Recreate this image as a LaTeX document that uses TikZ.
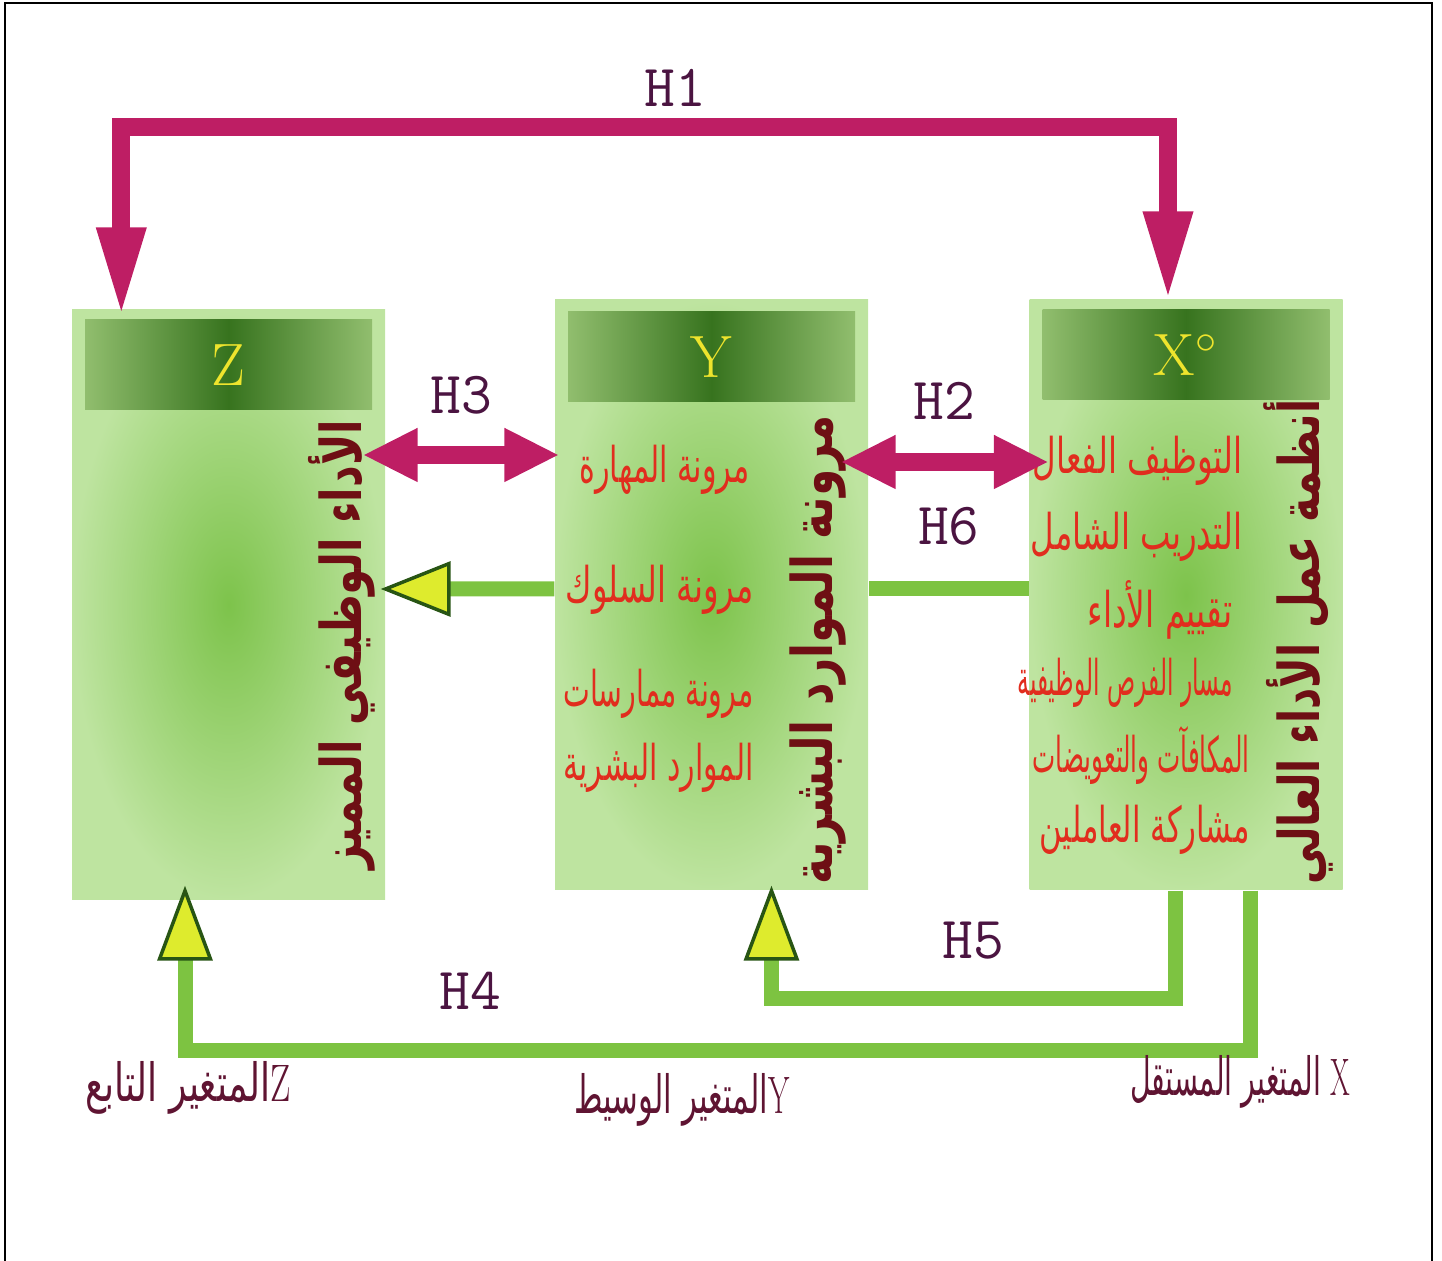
\documentclass[tikz,border=0pt]{standalone}
\usepackage{fontspec}
\newfontfamily\arabicfont[Script=Arabic]{DejaVu Sans}
\TeXXeTstate=1
\usetikzlibrary{arrows.meta,positioning,calc}

\definecolor{hmag}{RGB}{190,30,100}
\definecolor{hlab}{RGB}{75,20,65}
\definecolor{lgreen}{RGB}{125,195,65}
\definecolor{boxin}{RGB}{125,195,75}
\definecolor{boxout}{RGB}{190,228,160}
\definecolor{hdrdark}{RGB}{55,115,30}
\definecolor{hdredge}{RGB}{145,190,110}
\definecolor{letteryel}{RGB}{238,228,45}
\definecolor{itemred}{RGB}{225,45,30}
\definecolor{titlered}{RGB}{110,15,20}
\definecolor{tipyellow}{RGB}{222,235,45}
\definecolor{tipedge}{RGB}{40,85,20}
\definecolor{footred}{RGB}{95,20,50}

% squeeze a text to a given width, keeping its height
\newcommand{\squeeze}[2]{\resizebox{#1}{\height}{#2}}

\begin{document}
\begin{tikzpicture}[>=latex,
    varbox/.style={rectangle,minimum width=3.13cm,minimum height=5.9cm,
      inner color=boxin,outer color=boxout},
    hdr/.style={rectangle,minimum width=2.87cm,minimum height=0.9cm,
      left color=hdredge,right color=hdredge,middle color=hdrdark,
      text=letteryel,font=\rmfamily\fontsize{17}{20}\selectfont},
    vtitle/.style={rotate=90,text=titlered,
      font=\arabicfont\bfseries\fontsize{16}{19}\selectfont},
    item/.style={anchor=east,text=itemred,align=right,
      font=\arabicfont\fontsize{14}{21}\selectfont},
    hlabel/.style={text=hlab,font=\ttfamily\fontsize{17}{20}\selectfont},
    foot/.style={text=footred,font=\arabicfont\fontsize{15}{18}\selectfont},
    magline/.style={draw=hmag,line width=0.18cm},
    greenline/.style={draw=lgreen,line width=0.15cm},
    gtip/.style={-{Triangle[length=#1,width=0.55cm,fill=tipyellow,color=tipedge,line width=1pt]}}]
  \useasboundingbox (0,0) rectangle (14.42,12.61);
  \draw[line width=0.7pt] (0.05,0) -- (0.05,12.58) -- (14.32,12.58) -- (14.32,0);

  % the three variables
  \node[varbox] (zbox) at (2.285,6.56) {};
  \node[varbox] (ybox) at (7.115,6.66) {};
  \node[varbox] (xbox) at (11.86,6.66) {};
  \node[hdr,below=0.1cm of zbox.north] (zhdr) {Z};
  \node[hdr,below=0.12cm of ybox.north] (yhdr) {Y};
  \node[hdr,below=0.1cm of xbox.north] (xhdr) {X$^{\circ}$};

  \node[vtitle] (ztitle) at (3.42,6.16) {\squeeze{4.5cm}{\beginR الأداء الوظيفي المميز\endR}};
  \node[vtitle] (ytitle) at (8.18,6.11) {\squeeze{4.7cm}{\beginR مرونة الموارد البشرية\endR}};
  \node[vtitle] (xtitle) at (12.98,6.19) {\squeeze{4.85cm}{\beginR أنظمة عمل الأداء العالي\endR}};

  \node[item] (yone) at (7.62,7.91) {\squeeze{1.7cm}{\beginR مرونة المهارة\endR}};
  \node[item] (ytwo) at (7.66,6.71) {\squeeze{1.88cm}{\beginR مرونة السلوك\endR}};
  \node[item] (ythree) at (7.66,5.30) {\squeeze{1.9cm}{\beginR مرونة ممارسات\endR}\\\squeeze{1.9cm}{\beginR الموارد البشرية\endR}};

  \node[item] (xone) at (12.55,8.00) {\squeeze{2.1cm}{\beginR التوظيف الفعال\endR}};
  \node[item] (xtwo) at (12.55,7.24) {\squeeze{2.12cm}{\beginR التدريب الشامل\endR}};
  \node[item] (xthree) at (12.45,6.51) {\squeeze{1.45cm}{\beginR تقييم الأداء\endR}};
  \node[item] (xfour) at (12.45,5.78) {\squeeze{2.15cm}{\beginR مسار الفرص الوظيفية\endR}};
  \node[item] (xfive) at (12.62,5.06) {\squeeze{2.17cm}{\beginR المكافآت والتعويضات\endR}};
  \node[item] (xsix) at (12.62,4.31) {\squeeze{2.1cm}{\beginR مشاركة العاملين\endR}};

  % hypotheses
  \node[hlabel] (hone) at (6.75,11.73) {H1};
  \draw[magline,{Triangle[length=0.9cm,width=0.45cm]}-{Triangle[length=0.9cm,width=0.45cm]}]
    ([xshift=5mm,yshift=-0.8mm]zbox.north west) -- ++(0,1.9) -| ([xshift=-1.8mm,yshift=-0.2mm]xbox.north);
  \draw[magline,{Triangle[length=0.55cm,width=0.5cm]}-{Triangle[length=0.55cm,width=0.5cm]}]
    ([xshift=-2.3mm,yshift=1.5cm]zbox.east) -- node[above=0.2cm,hlabel] (hthree) {H3} ([xshift=0.5mm,yshift=1.4cm]ybox.west);
  \draw[magline,{Triangle[length=0.55cm,width=0.5cm]}-{Triangle[length=0.55cm,width=0.5cm]}]
    ([xshift=-2.8mm,yshift=1.33cm]ybox.east) -- node[above=0.22cm,hlabel] (htwo) {H2} ([xshift=2mm,yshift=1.33cm]xbox.west);

  \draw[greenline] ([yshift=0.6mm]xbox.west) -- node[above=0.25cm,hlabel] (hsix) {H6} ([yshift=0.6mm]ybox.east);
  \draw[greenline,gtip=0.7cm] ([yshift=0.6mm]ybox.west) -- ([xshift=-0.5mm,yshift=1.6mm]zbox.east);

  \draw[greenline,gtip=0.75cm] ([xshift=-1.1mm]xbox.south) -- ++(0,-1.08)
    -| node[pos=0.25,above=0.2cm,hlabel] (hfive) {H5} ([xshift=6mm,yshift=0.5mm]ybox.south);
  \draw[greenline,gtip=0.75cm] ([xshift=6.4mm]xbox.south) -- ++(0,-1.6)
    -| node[pos=0.366,above=0.22cm,hlabel] (hfour) {H4} ([xshift=-4.35mm,yshift=1.5mm]zbox.south);

  % variable types
  \node[foot] (zfoot) at (1.88,1.73) {\squeeze{2.05cm}{\beginR{\rmfamily Z}المتغير التابع\endR}};
  \node[foot] (yfoot) at (6.82,1.61) {\squeeze{2.15cm}{\beginR{\rmfamily Y}المتغير الوسيط\endR}};
  \node[foot] (xfoot) at (12.40,1.79) {\squeeze{2.2cm}{\beginR{\rmfamily X} المتغير المستقل\endR}};
\end{tikzpicture}
\end{document}
